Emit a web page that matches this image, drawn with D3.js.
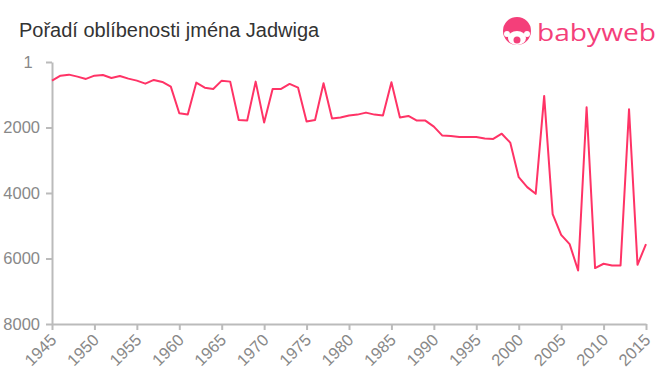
<!DOCTYPE html>
<html>
<head>
<meta charset="utf-8">
<script src="https://cdn.jsdelivr.net/npm/d3@7"></script>
<style>
  body { margin: 0; background: #fff; font-family: "Liberation Sans", Arial, sans-serif; }
  .axis path, .axis line { stroke: #bbb; }
  .axis text { fill: #888; font-size: 16.5px; font-family: "Liberation Sans", Arial, sans-serif; }
</style>
</head>
<body>
<svg id="chart" width="660" height="375"></svg>
<script>
var years = d3.range(1945, 2016);
var ranks = [
  570, 418, 387, 448, 518, 418, 397, 488, 427, 509,
  570, 662, 549, 610, 753, 1565, 1607, 631, 784, 824,
  570, 600, 1769, 1790, 600, 1851, 824, 824, 671, 784,
  1820, 1769, 651, 1729, 1698, 1637, 1607, 1546, 1607, 1637,
  620, 1698, 1647, 1790, 1790, 1973, 2248, 2257, 2288, 2288,
  2288, 2339, 2349, 2190, 2461, 3517, 3822, 4026, 1037, 4645,
  5277, 5561, 6366, 1382, 6293, 6161, 6213, 6213, 1443, 6192,
  5561
];
var yTicks = [1, 2000, 4000, 6000, 8000];
var xTicks = d3.range(1945, 2016, 5);

var svg = d3.select("#chart"),
    margin = { top: 62, right: 14, bottom: 51, left: 52 },
    width = 660 - margin.left - margin.right,
    height = 375 - margin.top - margin.bottom;

svg.append("text")
    .attr("x", 19).attr("y", 37)
    .style("font-size", "20px").style("fill", "#333")
    .text("Pořadí oblíbenosti jména Jadwiga");

// logo
var pink = "#f43f7a";
var logo = svg.append("g").attr("transform", "translate(517,31)");
logo.append("circle").attr("r", 14).attr("fill", pink);
logo.append("ellipse").attr("cx", 0).attr("cy", 7).attr("rx", 9).attr("ry", 7).attr("fill", "#fff");
logo.append("circle").attr("cx", -10).attr("cy", 3).attr("r", 3).attr("fill", "#fff");
logo.append("circle").attr("cx", 10).attr("cy", 3).attr("r", 3).attr("fill", "#fff");
logo.append("circle").attr("cx", 0).attr("cy", 9).attr("r", 3.5).attr("fill", pink);
svg.append("text")
    .attr("x", 537).attr("y", 41)
    .attr("textLength", 119).attr("lengthAdjust", "spacingAndGlyphs")
    .style("font-size", "24px").style("fill", pink)
    .style("font-family", "'Open Sans', sans-serif")
    .text("babyweb");

var g = svg.append("g").attr("transform", "translate(" + margin.left + "," + margin.top + ")");

var x = d3.scaleLinear().domain([1945, 2015]).range([0, width]);
var y = d3.scaleLinear().domain([1, 8000]).range([0, height]);

g.append("g")
    .attr("class", "axis axis--y")
    .call(d3.axisLeft(y).tickValues(yTicks).tickFormat(d3.format("d")).tickSizeOuter(0).tickPadding(6))
  .selectAll("text")
    .attr("dx", function(d) { return d === 1 ? "-0.45em" : 0; });

g.append("g")
    .attr("class", "axis axis--x")
    .attr("transform", "translate(0," + height + ")")
    .call(d3.axisBottom(x).tickValues(xTicks).tickFormat(d3.format("d")).tickSizeOuter(0))
  .selectAll("text")
    .style("text-anchor", "end")
    .attr("x", 0)
    .attr("y", 0)
    .attr("dy", "0.35em")
    .attr("transform", "translate(1,13) rotate(-45)");

g.selectAll(".axis path, .axis line").style("stroke-width", 2);

var line = d3.line()
    .x(function(d, i) { return x(years[i]); })
    .y(function(d) { return y(d); });

g.append("path")
    .datum(ranks)
    .attr("fill", "none")
    .attr("stroke", "#ff3366")
    .attr("stroke-width", 2)
    .attr("stroke-linejoin", "round")
    .attr("d", line);
</script>
</body>
</html>
